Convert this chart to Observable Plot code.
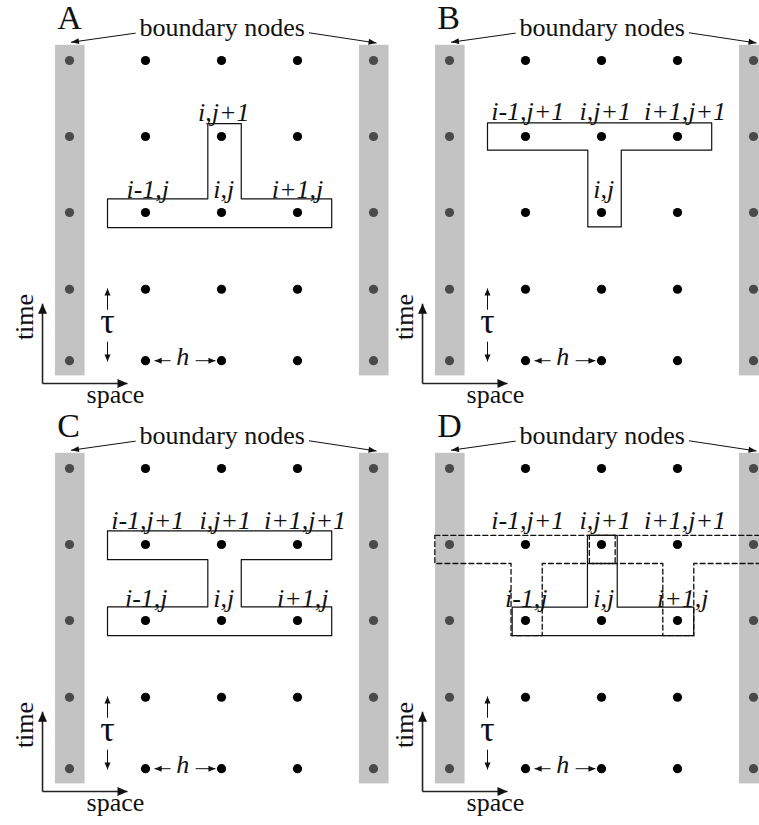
<!DOCTYPE html>
<html><head><meta charset="utf-8">
<script src="https://cdn.jsdelivr.net/npm/d3@7"></script>
<script src="https://cdn.jsdelivr.net/npm/@observablehq/plot@0.6"></script>
<style>body{margin:0;background:#fff} svg{display:block} svg text{font-family:"Liberation Serif","Times New Roman",serif}</style>
</head><body><div id="chart"></div>
<script>
// ---------- data (grid units: i = space index, t = time row from the top) ----------
const panelIds = ["A", "B", "C", "D"];
const panelGridCol = [0, 1, 0, 1];
const panelGridRow = [0, 0, 1, 1];

const spaceIndex = [0, 1, 2, 3, 4];
const timeRows = [0, 1, 2, 3.01, 3.95];
const boundaryIndex = [0, 4];

// stencil outlines [i, t]
const stencilA = [[0.5,1.82],[1.82,1.82],[1.82,0.83],[2.26,0.83],[2.26,1.82],[3.45,1.82],[3.45,2.2],[0.5,2.2]];
const stencilB = [[0.5,0.82],[3.45,0.82],[3.45,1.18],[2.26,1.18],[2.26,2.19],[1.82,2.19],[1.82,1.18],[0.5,1.18]];
const stencilC = [[0.5,0.82],[3.45,0.82],[3.45,1.2],[2.26,1.2],[2.26,1.82],[3.45,1.82],[3.45,2.2],[0.5,2.2],[0.5,1.82],[1.82,1.82],[1.82,1.2],[0.5,1.2]];
const stencilD = [[0.825,1.825],[1.815,1.825],[1.815,0.88],[2.207,0.88],[2.207,1.825],[3.214,1.825],[3.214,2.2],[0.825,2.2]];
const dashedD1 = [[-0.193,0.88],[4.4,0.88],[4.4,1.25],[3.214,1.25],[3.214,2.2],[2.807,2.2],[2.807,1.25],[1.22,1.25],[1.22,2.2],[0.81,2.2],[0.81,1.25],[-0.193,1.25]];
const dashedD2 = [[1.84,0.88],[2.18,0.88],[2.18,1.25],[1.84,1.25]];

// node labels [text, i, t(baseline)]
const labelsA = [["i,j+1",2.03,0.80],["i-1,j",1.03,1.81],["i,j",2.03,1.81],["i+1,j",3.0,1.81]];
const labelsB = [["i-1,j+1",1.03,0.78],["i,j+1",2.05,0.78],["i+1,j+1",3.1,0.78],["i,j",2.03,1.81]];
const labelsC = [["i-1,j+1",1.03,0.80],["i,j+1",2.05,0.80],["i+1,j+1",3.1,0.80],["i-1,j",1.01,1.82],["i,j",2.03,1.82],["i+1,j",3.07,1.82]];
const labelsD = [["i-1,j+1",1.03,0.80],["i,j+1",2.05,0.80],["i+1,j+1",3.1,0.80],["i-1,j",1.01,1.82],["i,j",2.03,1.82],["i+1,j",3.07,1.82]];

// arrows [from i, from t, tip i, tip t]
const boundaryArrows = [[0.87,-0.36,0.02,-0.24],[3.15,-0.365,4.04,-0.23]];
const tauArrows = [[0.5,3.28,0.5,3.0],[0.5,3.7,0.5,3.96]];
const hArrows = [[1.33,3.95,1.12,3.95],[1.66,3.95,1.92,3.95]];
const axisArrows = [[-0.355,4.25,-0.355,3.2],[-0.355,4.25,0.763,4.25]];

// text positions [text, i, t]
const titleText = ["boundary nodes", 2.01, -0.316];
const timeText = ["time", -0.474, 3.375];
const spaceText = ["space", 0.605, 4.51];
const tauText = ["τ", 0.5, 3.59];
const hText = ["h", 1.49, 4.01];
const letterPos = [-0.16, -0.41];

// ---------- layout ----------
const W = 759, H = 825, UNIT = 76, OX = 69, OY = 60;
const DX = 380 / UNIT, DY = 408 / UNIT;
const place = (p, c, r) => ({X: c + panelGridCol[p] * DX, Y: r + panelGridRow[p] * DY});

const nodes = [];
const bars = [];
const texts = {title: [], time: [], space: [], tau: [], h: [], letter: []};
const shafts = {thin: [], axis: []};
const heads = {thin: [], axis: []};

function head(x1, y1, x2, y2, len, half) {
  const dx = x2 - x1, dy = y2 - y1, L = Math.hypot(dx, dy), ux = dx / L, uy = dy / L;
  const bx = x2 - ux * len, by = y2 - uy * len;
  return [[x2, y2], [bx - uy * half, by + ux * half], [bx + uy * half, by - ux * half]];
}
let hid = 0;
function addArrows(p, list, kind, len, half) {
  list.forEach(([c1, r1, c2, r2]) => {
    const a = place(p, c1, r1), b = place(p, c2, r2);
    shafts[kind].push({x1: a.X, y1: a.Y, x2: b.X, y2: b.Y});
    const z = "h" + (hid++);
    head(a.X, a.Y, b.X, b.Y, len / UNIT, half / UNIT).forEach(([x, y]) => heads[kind].push({X: x, Y: y, z}));
  });
}

panelIds.forEach((id, p) => {
  spaceIndex.forEach(i => timeRows.forEach(t => nodes.push({...place(p, i, t), boundary: boundaryIndex.includes(i)})));
  boundaryIndex.forEach(i => {
    const a = place(p, i - 0.185, -0.2), b = place(p, i + 0.205, 4.15);
    bars.push({x1: a.X, y1: a.Y, x2: b.X, y2: b.Y});
  });
  const put = (key, [s, c, r]) => texts[key].push({text: s, ...place(p, c, r)});
  put("title", titleText); put("time", timeText); put("space", spaceText); put("tau", tauText); put("h", hText);
  put("letter", [id, letterPos[0], letterPos[1]]);
  addArrows(p, boundaryArrows, "thin", 8, 3);
  addArrows(p, tauArrows, "thin", 7, 3);
  addArrows(p, hArrows, "thin", 7, 3);
  addArrows(p, axisArrows, "axis", 10, 4.5);
});

const outline = (pairs) => {
  const out = [];
  pairs.forEach(([id, pts], k) => {
    const p = panelIds.indexOf(id);
    pts.forEach(([c, r]) => out.push({z: id + k, ...place(p, c, r)}));
  });
  return out;
};
const solid = outline([["A", stencilA], ["B", stencilB], ["C", stencilC], ["D", stencilD]]);
const dashed = outline([["D", dashedD1], ["D", dashedD2]]);
const nodeLabels = [];
[["A", labelsA], ["B", labelsB], ["C", labelsC], ["D", labelsD]].forEach(([id, ls]) => {
  const p = panelIds.indexOf(id);
  ls.forEach(([s, c, r]) => nodeLabels.push({text: s, ...place(p, c, r)}));
});

const serif = "Liberation Serif";
const T = {x: "X", y: "Y", text: "text", fontFamily: serif, lineAnchor: "bottom", fill: "#111"};
const chart = Plot.plot({
  width: W, height: H, margin: 0,
  x: {domain: [-OX / UNIT, (W - OX) / UNIT], range: [0, W], axis: null},
  y: {domain: [-OY / UNIT, (H - OY) / UNIT], range: [0, H], axis: null},
  style: {background: "white", color: "black"},
  marks: [
    Plot.rect(bars, {x1: "x1", x2: "x2", y1: "y1", y2: "y2", fill: "#c3c3c3"}),
    Plot.dot(nodes.filter(d => d.boundary), {x: "X", y: "Y", r: 4.6, fill: "#4a4a4a", stroke: "none"}),
    Plot.dot(nodes.filter(d => !d.boundary), {x: "X", y: "Y", r: 4.6, fill: "#000", stroke: "none"}),
    Plot.line(solid, {x: "X", y: "Y", z: "z", curve: "linear-closed", stroke: "#111", strokeWidth: 1.2}),
    Plot.line(dashed, {x: "X", y: "Y", z: "z", curve: "linear-closed", stroke: "#111", strokeWidth: 1.3, strokeDasharray: "5,3"}),
    Plot.link(shafts.thin, {x1: "x1", y1: "y1", x2: "x2", y2: "y2", stroke: "#111", strokeWidth: 1}),
    Plot.line(heads.thin, {x: "X", y: "Y", z: "z", curve: "linear-closed", fill: "#111", stroke: "none"}),
    Plot.link(shafts.axis, {x1: "x1", y1: "y1", x2: "x2", y2: "y2", stroke: "#222", strokeWidth: 1.6}),
    Plot.line(heads.axis, {x: "X", y: "Y", z: "z", curve: "linear-closed", fill: "#111", stroke: "none"}),
    Plot.text(nodeLabels, {...T, fontSize: 26, fontStyle: "italic"}),
    Plot.text(texts.title, {...T, fontSize: 26}),
    Plot.text(texts.space, {...T, fontSize: 26}),
    Plot.text(texts.time, {...T, fontSize: 26, rotate: -90}),
    Plot.text(texts.tau, {...T, fontSize: 36}),
    Plot.text(texts.h, {...T, fontSize: 26, fontStyle: "italic"}),
    Plot.text(texts.letter, {...T, fontSize: 34, textAnchor: "start"})
  ]
});
document.getElementById("chart").appendChild(chart);
</script>
</body></html>
